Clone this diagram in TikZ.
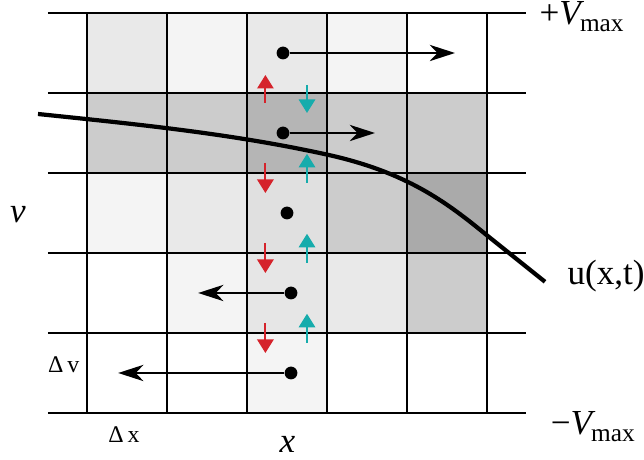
\documentclass[tikz,border=0pt]{standalone}
\usepackage{fontspec}
\setmainfont{Liberation Serif}
\usetikzlibrary{arrows.meta}

\definecolor{cellA}{HTML}{F4F4F4}
\definecolor{cellB}{HTML}{E9E9E9}
\definecolor{cellC}{HTML}{CCCCCC}
\definecolor{cellD}{HTML}{B5B5B5}
\definecolor{cellE}{HTML}{E0E0E0}
\definecolor{cellF}{HTML}{AAAAAA}
\definecolor{cellG}{HTML}{E6E6E6}
\definecolor{fluxred}{RGB}{213,35,43}
\definecolor{fluxcyan}{RGB}{22,172,172}

\begin{document}
\begin{tikzpicture}[
    gridline/.style={line width=0.5pt, black},
    dot/.style={circle, fill=black, inner sep=0pt, minimum size=0.16cm},
    flow/.style={-{Stealth[length=9pt, width=5.8pt, inset=2.8pt]}, line width=0.75pt},
    flux/.style={-{Triangle[length=4.8pt, width=5.8pt]}, line width=0.7pt},
    lbl/.style={inner sep=0pt, anchor=base west, font=\fontsize{12.5}{15}\selectfont},
    small/.style={inner sep=0pt, anchor=base, font=\fontsize{8.5}{10}\selectfont}
  ]
    \useasboundingbox (-1.0875,-0.5875) rectangle (6.9625,5.1625);

    % shaded cells: column/row/colour
    \foreach \c/\r/\col in {0/4/cellB, 1/4/cellA, 2/4/cellB, 3/4/cellA,
        0/3/cellC, 1/3/cellC, 2/3/cellD, 3/3/cellC, 4/3/cellC,
        0/2/cellA, 1/2/cellB, 2/2/cellE, 3/2/cellC, 4/2/cellF,
        1/1/cellA, 2/1/cellG, 3/1/cellB, 4/1/cellC,
        2/0/cellA}
      \fill[\col] (\c,\r) rectangle ++(1,1);

    % grid
    \foreach \y in {0,...,5}
      \draw[gridline] (-0.49,\y) -- (5.49,\y);
    \foreach \x in {0,...,5}
      \draw[gridline] (\x,0) -- (\x,5);

    % profile u(x,t)
    \coordinate (u0) at (-0.6125,3.7375);
    \coordinate (u1) at (3,3.23);
    \coordinate (u2) at (5,2.22);
    \coordinate (u3) at (5.725,1.64);
    \draw[line width=1.5pt] (u0) .. controls (0.5875,3.6125) and (1.8,3.494) .. (u1)
        .. controls (4,3.01) and (4.5,2.63) .. (u2) -- (u3);

    % fluxes across cell faces
    \draw[flux, fluxred] (2.23,3.875) -- (2.23,4.225);
    \draw[flux, fluxcyan] (2.75,4.1) -- (2.75,3.75);
    \foreach \b in {1,2,3} {
      \draw[flux, fluxred] (2.23,\b+0.125) -- (2.23,\b-0.25);
      \draw[flux, fluxcyan] (2.75,\b-0.125) -- (2.75,\b+0.24);
    }

    % particles and their velocities
    \node[dot] (p4) at (2.45,4.5) {};
    \node[dot] (p3) at (2.45,3.5) {};
    \node[dot] (p2) at (2.5,2.5) {};
    \node[dot] (p1) at (2.55,1.5) {};
    \node[dot] (p0) at (2.55,0.5) {};
    \coordinate (e4) at (4.6,4.5);
    \coordinate (e3) at (3.6,3.5);
    \coordinate (e1) at (1.39,1.5);
    \coordinate (e0) at (0.39,0.5);
    \draw[flow] (p4) -- (e4);
    \draw[flow] (p3) -- (e3);
    \draw[flow] (p1) -- (e1);
    \draw[flow] (p0) -- (e0);

    % labels
    \node[lbl] (vmax) at (5.65,4.85) {+\textit{V}\kern-0.12em\raisebox{-0.42ex}{\fontsize{9}{10}\selectfont max}};
    \node[lbl] (vmin) at (5.79,-0.275) {−\textit{V}\kern-0.12em\raisebox{-0.42ex}{\fontsize{9}{10}\selectfont max}};
    \node[lbl] (ulab) at (6.0,1.61) {u(x,t)};
    \node[lbl, anchor=base] (vlab) at (-0.8625,2.375) {\textit{v}};
    \node[lbl, anchor=base] (xlab) at (2.506,-0.5) {\textit{x}};
    \node[small] (dv) at (-0.29,0.5) {Δ\,v};
    \node[small] (dx) at (0.4625,-0.375) {Δ\,x};
  \end{tikzpicture}
\end{document}
